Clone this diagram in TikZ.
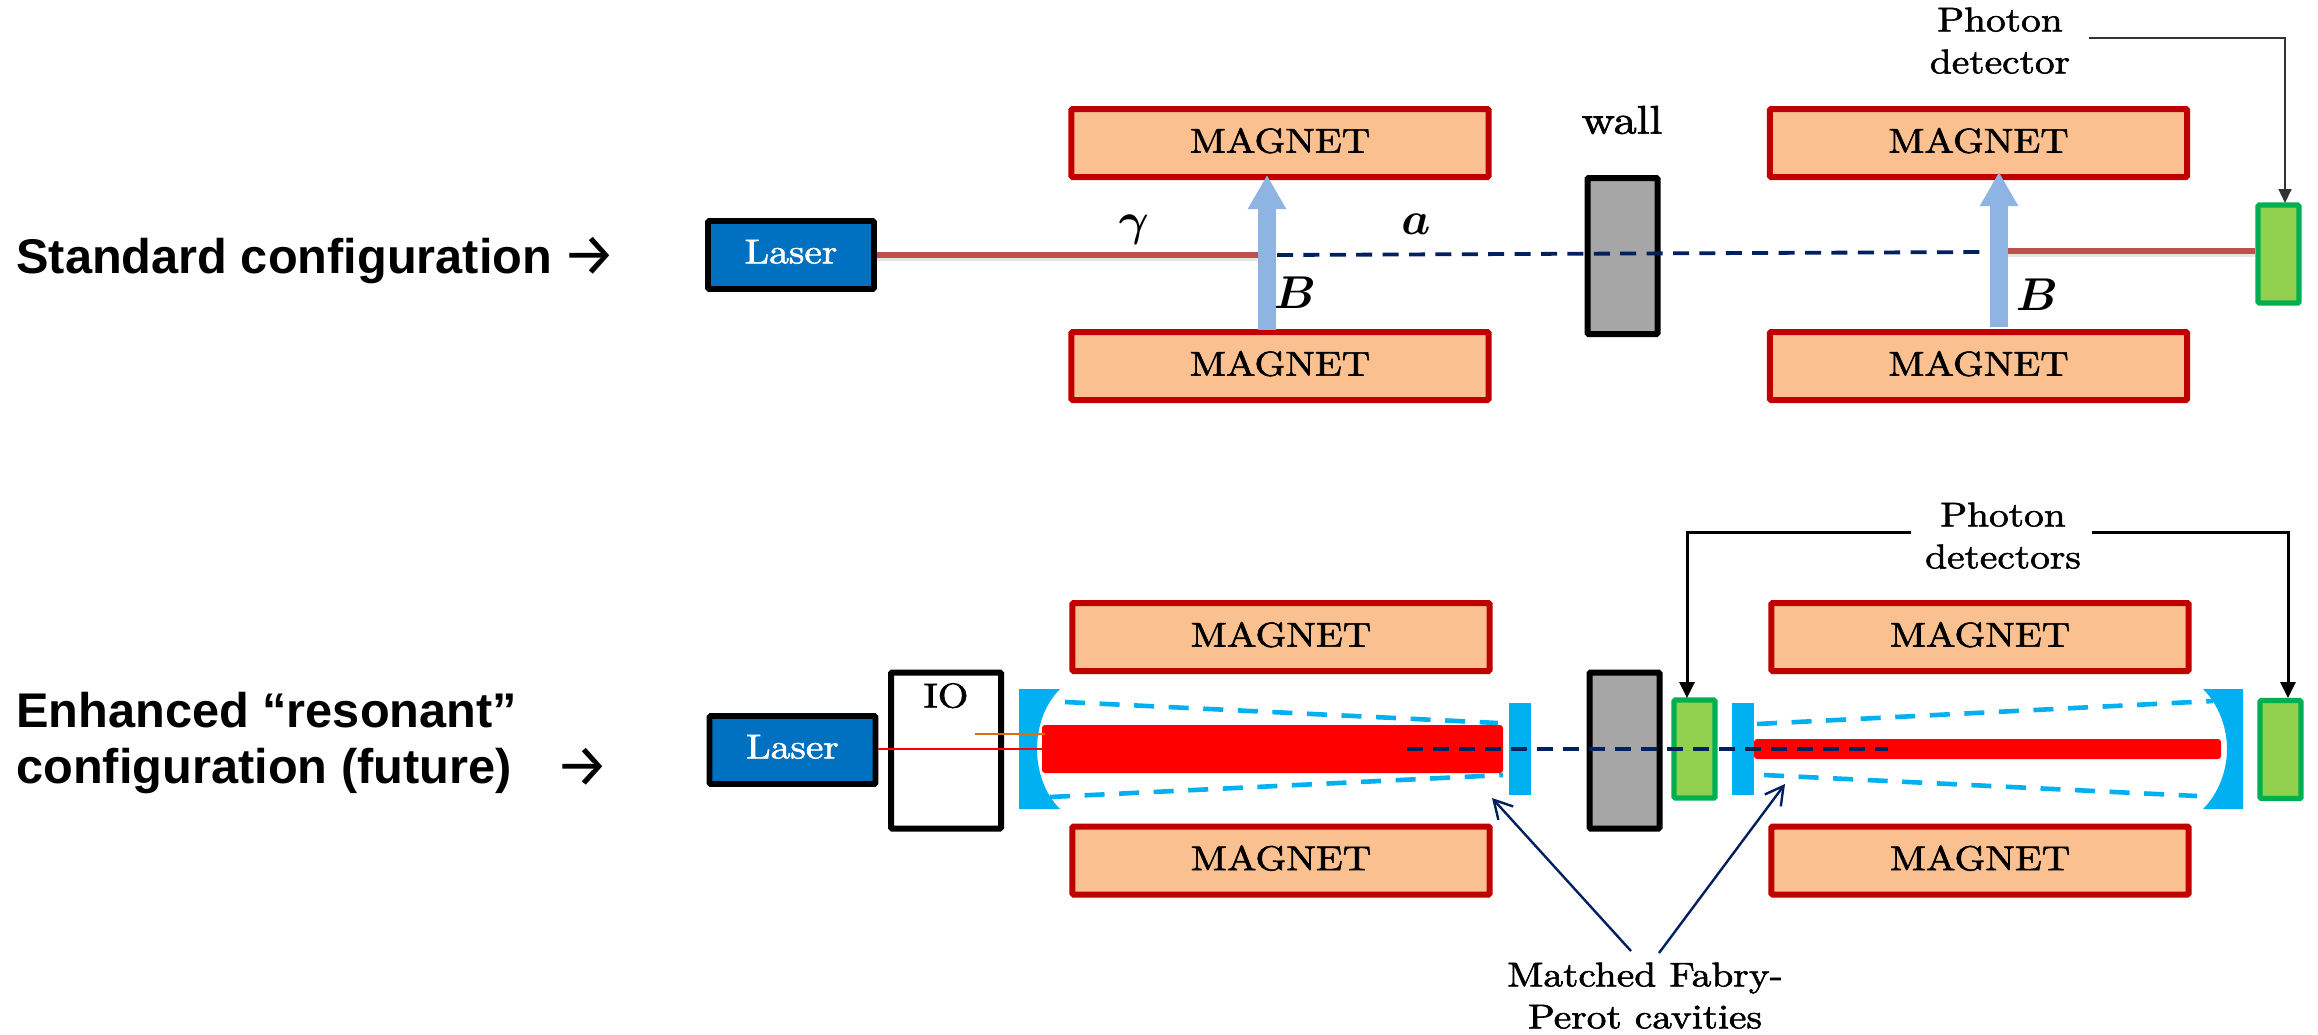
\documentclass[tikz,border=0pt]{standalone}
\usepackage{graphicx}
\usepackage{fontspec}
\usetikzlibrary{arrows.meta}
\newfontfamily\leftfont{Liberation Sans}[BoldFont={* Bold}]
\newfontfamily\arrowfont{Fira Sans}
\newfontfamily\cmheavy{Latin Modern Roman}[FakeBold=1.6]
\newcommand{\cmtext}[1]{\scalebox{1.97}[1.72]{\cmheavy\fontsize{10}{12.2}\selectfont\begin{tabular}{@{}c@{}}#1\end{tabular}}}
\newcommand{\cmwall}[1]{\scalebox{2.3}[2.0]{\cmheavy\fontsize{10}{12.2}\selectfont #1}}
\newcommand{\mathtext}[1]{\scalebox{2.3}{\fontsize{10}{12}\selectfont\boldmath$#1$}}
\definecolor{magfill}{HTML}{FAC090}
\definecolor{magedge}{HTML}{C00000}
\definecolor{laserblue}{HTML}{0070C0}
\definecolor{wallgray}{HTML}{A6A6A6}
\definecolor{mirror}{HTML}{00B0F0}
\definecolor{navy}{HTML}{002060}
\definecolor{detfill}{HTML}{92D050}
\definecolor{detedge}{HTML}{00B050}
\definecolor{fieldblue}{HTML}{8EB4E3}
\definecolor{beamred}{HTML}{C0504D}
\definecolor{ioorange}{HTML}{E36C09}
\tikzset{
  magnet/.style={draw=magedge,fill=magfill,line width=3pt,rounded corners=0.6pt,minimum width=208.6pt,minimum height=34pt,inner sep=0pt,text depth=5pt},
  laserbox/.style={draw=black,fill=laserblue,line width=2.9pt,rounded corners=0.6pt,minimum width=83pt,minimum height=34pt,inner sep=0pt,text=white},
  wallbox/.style={draw=black,fill=wallgray,line width=3pt,rounded corners=0.6pt,minimum width=35pt,minimum height=78pt,inner sep=0pt},
  iobox/.style={draw=black,fill=white,line width=3pt,rounded corners=0.6pt,minimum width=55pt,minimum height=78pt,inner sep=0pt},
  detbox/.style={draw=detedge,fill=detfill,line width=2.6pt,rounded corners=0.6pt,minimum width=20.5pt,minimum height=49pt,inner sep=0pt},
  lbl/.style={inner sep=0pt},
  sidetext/.style={inner sep=0pt,anchor=base west,font=\leftfont\bfseries\fontsize{24.35}{28}\selectfont},
  sidearrow/.style={inner sep=0pt,font=\arrowfont\fontsize{30}{34}\selectfont},
  beamline/.style={draw=beamred,line width=2.8pt},
  beamshadow/.style={draw=black,opacity=0.10,line width=3pt},
  axion/.style={draw=navy,line width=1.9pt,dash pattern=on 8pt off 5.2pt},
  cavity/.style={draw=mirror,line width=2.3pt,dash pattern=on 10pt off 7.3pt},
  field/.style={draw=fieldblue,line width=9pt,-{Triangle[length=17pt,width=18pt]}},
  thinarrow/.style={draw=black!80,line width=0.8pt,-{Triangle[length=7pt,width=6.5pt]}},
  detarrow/.style={draw=black,line width=1.5pt,-{Triangle[length=8pt,width=7.5pt]}},
  openarrow/.style={draw=navy,line width=1.2pt,-{Straight Barb[length=9pt,width=10pt,line width=1.2pt]}}
}
\begin{document}
\begin{tikzpicture}[x=0.5pt,y=-0.5pt]
\useasboundingbox (0,0) rectangle (2318,1034);
% side labels
\node[sidetext] (std) at (16,273) {Standard configuration};
\node[sidearrow] (stdarr) at (589,256) {→};
\node[sidetext] (enh1) at (16,727) {Enhanced “resonant”};
\node[sidetext] (enh2) at (16,783) {configuration (future)};
\node[sidearrow] (enharr) at (582,767) {→};
% ---- standard configuration
\node[magnet] (m1) at (1280,143) {\cmtext{MAGNET}};
\node[magnet] (m2) at (1280,366) {\cmtext{MAGNET}};
\node[magnet] (m3) at (1978.5,143) {\cmtext{MAGNET}};
\node[magnet] (m4) at (1978.5,366) {\cmtext{MAGNET}};
\node[laserbox] (l1) at (791,255) {\cmtext{Laser}};
\node[wallbox] (w1) at (1622.5,256) {};
\node[detbox] (d1) at (2278.5,254) {};
\node[lbl] (wall) at (1622,120) {\cmwall{wall}};
\coordinate (g1e) at (1258,255);
\coordinate (a1s) at (1277,255);
\coordinate (a1e) at (1988,252);
\coordinate (g2s) at (2008,251);
\draw[beamshadow] ([yshift=-1.7pt]l1.east) -- ([yshift=-1.7pt]g1e);
\draw[beamshadow] ([yshift=-1.7pt]g2s) -- ([yshift=-1.7pt]d1.west |- g2s);
\draw[beamline] (l1.east) -- (g1e);
\draw[beamline] (g2s) -- (d1.west |- g2s);
\draw[axion] (a1s) -- (a1e);
\coordinate (b1s) at (1267,330);
\coordinate (b1e) at (1267,175);
\coordinate (b2s) at (1999,327);
\coordinate (b2e) at (1999,172);
\draw[field] (b1s) -- (b1e);
\draw[field] (b2s) -- (b2e);
\node[lbl] (gam) at (1134,230) {\mathtext{\gamma}};
\node[lbl] (axa) at (1416,224) {\mathtext{a}};
\node[lbl] (b1) at (1295,293) {\mathtext{B}};
\node[lbl] (b2) at (2037,295) {\mathtext{B}};
\node[lbl] (pd) at (2000,44) {\cmtext{Photon\\detector}};
\coordinate (pds) at (2089,38);
\coordinate (pde) at (2285,203);
\draw[thinarrow] (pds) -| (pde);
% ---- resonant configuration
\node[magnet] (m5) at (1281,637) {\cmtext{MAGNET}};
\node[magnet] (m6) at (1281,860.5) {\cmtext{MAGNET}};
\node[magnet] (m7) at (1980,637) {\cmtext{MAGNET}};
\node[magnet] (m8) at (1980,860.5) {\cmtext{MAGNET}};
\node[iobox] (io) at (946,750.5) {};
\node[lbl] (iot) at (946,699) {\cmtext{IO}};
\node[laserbox] (l2) at (792.5,750) {\cmtext{Laser}};
\node[wallbox] (w2) at (1624.5,750.5) {};
\node[detbox] (d2) at (1694.5,749) {};
\node[detbox] (d3) at (2280.5,749.5) {};
% mirrors
\fill[mirror] (1019,689) -- (1060,689) .. controls (1044,705) and (1037,728) .. (1037,749) .. controls (1037,770) and (1044,793) .. (1060,809) -- (1019,809) -- cycle;
\fill[mirror] (2243,689) -- (2203,689) .. controls (2219,705) and (2227,728) .. (2227,749) .. controls (2227,770) and (2219,793) .. (2203,809) -- (2243,809) -- cycle;
\fill[mirror] (1509,703) rectangle (1531,795);
\fill[mirror] (1732,703) rectangle (1754,795);
% beams
\fill[red,rounded corners=1.5pt] (1042,725) -- (1503,725) -- (1503,773) -- (1042,773) -- cycle;
\fill[red,rounded corners=1.5pt] (1754,739) -- (2221,739) -- (2221,759) -- (1754,759) -- cycle;
\coordinate (cv1a) at (1065,702); \coordinate (cv1b) at (1498,723);
\coordinate (cv2a) at (1050,797); \coordinate (cv2b) at (1503,775);
\coordinate (cv3a) at (1757,724); \coordinate (cv3b) at (2213,701);
\coordinate (cv4a) at (1764,775); \coordinate (cv4b) at (2197,796);
\draw[cavity] (cv1a) -- (cv1b);
\draw[cavity] (cv2a) -- (cv2b);
\draw[cavity] (cv3a) -- (cv3b);
\draw[cavity] (cv4a) -- (cv4b);
\coordinate (thin) at (1043,749);
\coordinate (ora) at (975,734); \coordinate (orb) at (1045,734);
\draw[red,line width=0.9pt] (l2.east |- thin) -- (thin);
\draw[ioorange,line width=1.1pt] (ora) -- (orb);
\coordinate (ax2a) at (1407,749); \coordinate (ax2b) at (1888,749);
\draw[axion,line width=2pt,dash pattern=on 8pt off 5pt] (ax2a) -- (ax2b);
% photon detectors
\node[lbl] (pds2) at (2003,539) {\cmtext{Photon\\detectors}};
\coordinate (ls) at (1911,532); \coordinate (le) at (1687,698);
\coordinate (rs) at (2092,532); \coordinate (re) at (2288,698);
\draw[detarrow] (ls) -| (le);
\draw[detarrow] (rs) -| (re);
% Fabry-Perot
\node[lbl] (fp) at (1645,999) {\cmtext{Matched Fabry-\\Perot cavities}};
\coordinate (f1s) at (1631,951); \coordinate (f1e) at (1492,798);
\coordinate (f2s) at (1659,953); \coordinate (f2e) at (1785,784);
\draw[openarrow] (f1s) -- (f1e);
\draw[openarrow] (f2s) -- (f2e);
\end{tikzpicture}
\end{document}
